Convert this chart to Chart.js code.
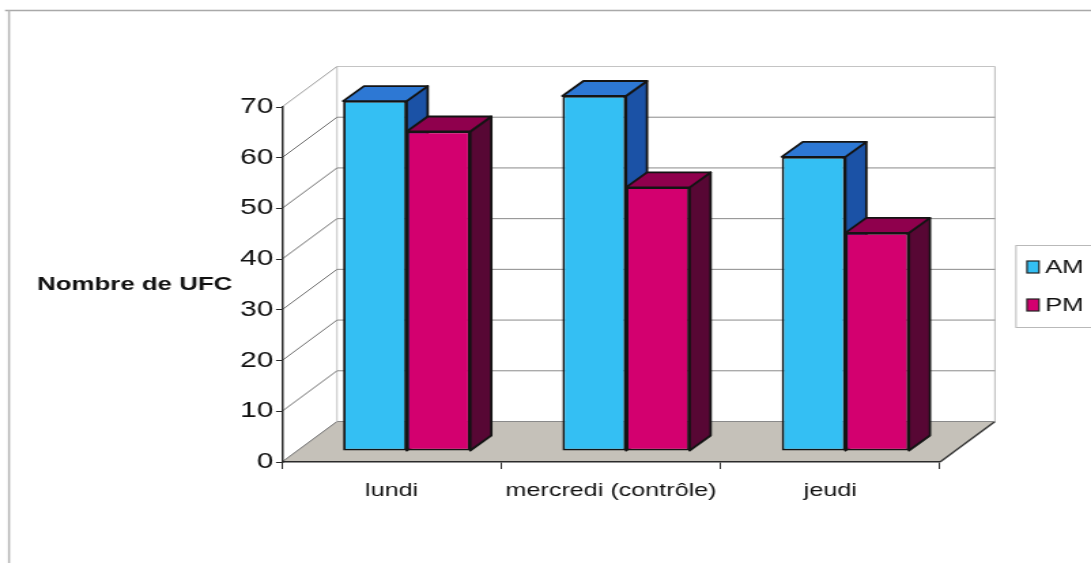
<!DOCTYPE html>
<html>
<head>
<meta charset="utf-8">
<title>Nombre de UFC</title>
<script src="https://cdn.jsdelivr.net/npm/chart.js@4.4.1/dist/chart.umd.min.js"></script>
<style>
  html, body { margin: 0; padding: 0; background: #fff; overflow: hidden; }
  /* the drawing is laid out on a narrower stage and widened horizontally */
  #stage { width: 802px; height: 563px; transform: scaleX(1.36035); transform-origin: 0 0; }
</style>
</head>
<body>
<div id="stage"><canvas id="chart"></canvas></div>
<script>
// ---- data ----
const categories = ['lundi', 'mercredi (contrôle)', 'jeudi'];
const seriesNames = ['AM', 'PM'];
const amValues = [69, 70, 58];
const pmValues = [63, 52, 43];
const yMin = 0;
const yMax = 70;
const yStep = 10;
const yTitle = 'Nombre de UFC';

// ---- geometry & style ----
const STAGE_W = 802, STAGE_H = 563;
const SX = 1091 / STAGE_W;            // horizontal widening of the stage
const px = v => v / SX;               // page x -> stage x
const FONT = "'Liberation Sans', Arial, sans-serif";
const AXIS_LEFT = 282, AXIS_RIGHT = 940, PLOT_TOP = 107, PLOT_BOTTOM = 462;
const WALL = { dx: px(55), dy: -40.5 };      // depth of the back wall
const BAR_SHIFT = { dx: px(15), dy: -11 };   // bars stand a little behind the front edge
const BAR_DEPTH = { dx: px(21), dy: -15 };   // thickness of each bar
const COLORS = {
  AM: { front: '#34bff3', top: '#2d78d4', side: '#1b52a6' },
  PM: { front: '#d3006f', top: '#8f004d', side: '#570734' },
  edge: '#141414',
  floor: '#c5c1b9',
  grid: '#8a8a8a',
  wall: '#c4c4c4',
  axis: '#2a2a2a',
  text: '#111'
};

function poly(ctx, pts, fill, stroke, lw) {
  ctx.beginPath();
  ctx.moveTo(pts[0][0], pts[0][1]);
  for (let i = 1; i < pts.length; i++) ctx.lineTo(pts[i][0], pts[i][1]);
  ctx.closePath();
  if (fill) { ctx.fillStyle = fill; ctx.fill(); }
  if (stroke) { ctx.strokeStyle = stroke; ctx.lineWidth = lw || 1; ctx.stroke(); }
}
function line(ctx, x1, y1, x2, y2, color, lw) {
  ctx.beginPath();
  ctx.moveTo(x1, y1);
  ctx.lineTo(x2, y2);
  ctx.strokeStyle = color;
  ctx.lineWidth = lw;
  ctx.stroke();
}

// walls, floor, gridlines, frame, title and legend
const scenery = {
  id: 'scenery',
  beforeDraw(chart) {
    const ctx = chart.ctx;
    const xs = chart.scales.x, ys = chart.scales.y;
    const L = xs.left, R = xs.right;
    const y0 = ys.getPixelForValue(yMin), yTop = ys.getPixelForValue(yMax);
    ctx.save();
    ctx.fillStyle = '#fff';
    ctx.fillRect(0, 0, STAGE_W, STAGE_H);

    // outer frame
    line(ctx, px(5), 10.5, STAGE_W, 10.5, '#a9a9a9', 1.5);
    line(ctx, px(9), 10, px(9), STAGE_H, '#b5b5b5', 1.5);

    // floor
    poly(ctx, [[L, y0], [L + WALL.dx, y0 + WALL.dy], [R + WALL.dx, y0 + WALL.dy], [R, y0]], COLORS.floor);
    line(ctx, L, y0, L + WALL.dx, y0 + WALL.dy, '#6b6b6b', 1);
    line(ctx, R, y0, R + WALL.dx, y0 + WALL.dy, '#333', 1.4);

    // back wall outline
    line(ctx, L + WALL.dx, yTop + WALL.dy, L + WALL.dx, y0 + WALL.dy, COLORS.wall, 1);
    line(ctx, R + WALL.dx, yTop + WALL.dy, R + WALL.dx, y0 + WALL.dy, COLORS.wall, 1.2);

    // gridlines: across the back wall and along the side wall
    for (let v = yMin; v <= yMax; v += yStep) {
      const y = ys.getPixelForValue(v);
      line(ctx, L + WALL.dx, y + WALL.dy, R + WALL.dx, y + WALL.dy, v === yMax ? COLORS.wall : COLORS.grid, 1);
      if (v > yMin) line(ctx, L, y, L + WALL.dx, y + WALL.dy, v === yMax ? '#9a9a9a' : '#6e6e6e', 1);
    }
    ctx.restore();
  },
  beforeDatasetsDraw(chart) {
    const ctx = chart.ctx;
    ctx.save();
    ctx.translate(BAR_SHIFT.dx, BAR_SHIFT.dy);
    ctx.lineJoin = 'round';
    // tops and right sides of the bars; the front faces are drawn by the bar elements
    chart.data.datasets.forEach((ds, i) => {
      const c = COLORS[seriesNames[i]];
      chart.getDatasetMeta(i).data.forEach(bar => {
        const { x, y, base, width } = bar.getProps(['x', 'y', 'base', 'width'], true);
        const l = x - width / 2, r = x + width / 2;
        const dx = BAR_DEPTH.dx, dy = BAR_DEPTH.dy;
        poly(ctx, [[r, y], [r + dx, y + dy], [r + dx, base + dy], [r, base]], c.side, COLORS.edge, 1.8);
        poly(ctx, [[l, y], [l + dx, y + dy], [r + dx, y + dy], [r, y]], c.top, COLORS.edge, 1.8);
      });
    });
  },
  afterDatasetsDraw(chart) {
    chart.ctx.restore();
  },
  afterDraw(chart) {
    const ctx = chart.ctx;
    ctx.save();
    ctx.fillStyle = COLORS.text;
    ctx.textBaseline = 'middle';
    ctx.textAlign = 'left';
    ctx.font = `bold 19px ${FONT}`;
    ctx.fillText(yTitle, px(37), 285);

    // legend
    ctx.strokeStyle = '#b9b9b9';
    ctx.lineWidth = 1;
    ctx.strokeRect(px(1016), 245.5, STAGE_W - px(1016) + 4, 82);
    ctx.font = `19px ${FONT}`;
    seriesNames.forEach((name, i) => {
      const yy = 261 + i * 38;
      ctx.fillStyle = COLORS[name].front;
      ctx.fillRect(px(1027), yy, px(12), 12);
      ctx.strokeStyle = '#222';
      ctx.lineWidth = 1.2;
      ctx.strokeRect(px(1027), yy, px(12), 12);
      ctx.fillStyle = COLORS.text;
      ctx.fillText(name, px(1045), yy + 7);
    });
    ctx.restore();
  }
};

new Chart(document.getElementById('chart'), {
  type: 'bar',
  data: {
    labels: categories,
    datasets: [
      { label: seriesNames[0], data: amValues, backgroundColor: COLORS.AM.front },
      { label: seriesNames[1], data: pmValues, backgroundColor: COLORS.PM.front }
    ].map(ds => Object.assign(ds, {
      borderColor: COLORS.edge, borderWidth: 1.8, borderSkipped: false,
      categoryPercentage: 0.58, barPercentage: 1.0, clip: false
    }))
  },
  options: {
    responsive: true,
    maintainAspectRatio: false,
    animation: false,
    events: [],
    layout: { padding: { left: 0, top: PLOT_TOP, right: STAGE_W - px(AXIS_RIGHT), bottom: 0 } },
    plugins: { legend: { display: false }, tooltip: { enabled: false }, title: { display: false } },
    scales: {
      x: {
        offset: true,
        grid: { display: true, drawOnChartArea: false, drawTicks: true, tickLength: 7, color: COLORS.axis, lineWidth: 1 },
        border: { display: true, color: COLORS.axis, width: 1.5 },
        ticks: { color: COLORS.text, font: { family: FONT, size: 18.5 }, padding: 11, maxRotation: 0, autoSkip: false },
        afterFit(s) { s.height = STAGE_H - PLOT_BOTTOM; }
      },
      y: {
        min: yMin, max: yMax,
        grid: { display: true, drawOnChartArea: false, drawTicks: true, tickLength: px(6), color: COLORS.axis, lineWidth: 1 },
        border: { display: true, color: COLORS.axis, width: 1.5 },
        ticks: { stepSize: yStep, color: COLORS.text, font: { family: FONT, size: 22 }, padding: 2 },
        afterFit(s) { s.width = px(AXIS_LEFT); }
      }
    }
  },
  plugins: [scenery]
});
</script>
</body>
</html>
